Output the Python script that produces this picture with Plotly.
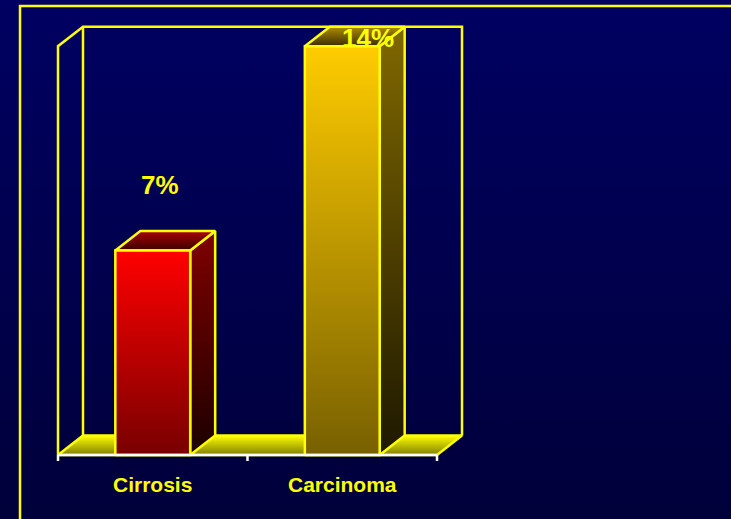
import plotly.graph_objects as go

# ---- data ----
categories = ["Cirrosis", "Carcinoma"]
values = [7, 14]
value_labels = ["7%", "14%"]

# ---- layout / style constants ----
W, H = 731, 519
Y_MAX = 14
BAR_W = 0.395
PX_X, PX_Y = 189.5, 29.2          # pixels per data unit
X0_PX, Y0_PX = 58, 455            # pixel position of (x=-0.5, y=0)
DX, DY = 25 / PX_X, 19.5 / PX_Y    # 3-D depth offset in data units
x_lo = -0.5 - X0_PX / PX_X
x_hi = x_lo + W / PX_X
y_lo = -(H - Y0_PX) / PX_Y
y_hi = y_lo + H / PX_Y

YEL = "#FFFF00"
LW = 2.5
bar_styles = [
    dict(front=("#780000", "#FF0000"), side=("#1C0000", "#800000"), top=("#3A0000", "#A80000")),
    dict(front=("#786000", "#FFCC00"), side=("#1E1800", "#806800"), top=("#3A2E00", "#B08C00")),
]
label_dx = [0.04, 0.135]
label_top = 14.27
label_gap = 2.25

fig = go.Figure()


def poly(xs, ys, grad=None, lw=LW, lc=YEL):
    xs = list(xs) + [xs[0]]
    ys = list(ys) + [ys[0]]
    kw = {}
    if grad is not None:
        kw["fillgradient"] = dict(type="vertical", colorscale=[[0, grad[0]], [1, grad[1]]])
        kw["fill"] = "toself"
    fig.add_trace(go.Scatter(x=xs, y=ys, mode="lines",
                             line=dict(color=lc, width=lw),
                             hoverinfo="skip", **kw))


# background gradient
poly([x_lo, x_hi, x_hi, x_lo], [y_lo, y_lo, y_hi, y_hi],
     grad=("#00003A", "#000062"), lw=0, lc="rgba(0,0,0,0)")

n = len(categories)
xa, xb = -0.5, n - 0.5

# floor
poly([xa, xb, xb + DX, xa + DX], [0, 0, DY, DY], grad=("#7E7E00", "#FFFF00"))

# walls (wireframe)
fig.add_trace(go.Scatter(
    x=[xa, xa, xa + DX, xb + DX, xb + DX, None, xa + DX, xa + DX],
    y=[0, Y_MAX, Y_MAX + DY, Y_MAX + DY, DY, None, DY, Y_MAX + DY],
    mode="lines", line=dict(color=YEL, width=LW), hoverinfo="skip"))

# bars
for i, v in enumerate(values):
    st = bar_styles[i]
    xl, xr = i - BAR_W / 2, i + BAR_W / 2
    poly([xr, xr + DX, xr + DX, xr], [0, DY, v + DY, v], grad=st["side"])
    poly([xl, xr, xr + DX, xl + DX], [v, v, v + DY, v + DY], grad=st["top"])
    poly([xl, xr, xr, xl], [0, 0, v, v], grad=st["front"])

# category axis line and ticks
tick_len = 6 / PX_Y
tx, ty = [xa, xb], [0, 0]
for k in range(n + 1):
    tx += [None, xa + k, xa + k]
    ty += [None, 0, -tick_len]
fig.add_trace(go.Scatter(x=tx, y=ty, mode="lines",
                         line=dict(color="#FFFFFF", width=2.5), hoverinfo="skip"))

# category labels
for i, c in enumerate(categories):
    fig.add_annotation(x=i, y=-1.0, text=c, showarrow=False,
                       xanchor="center", yanchor="middle",
                       font=dict(family="Liberation Sans, Arial", size=21,
                                 color=YEL, weight="bold"))

# value labels
for i, (v, t) in enumerate(zip(values, value_labels)):
    fig.add_annotation(x=i + label_dx[i], y=min(v + label_gap, label_top), text=t,
                       showarrow=False, xanchor="center", yanchor="middle",
                       font=dict(family="Liberation Sans, Arial", size=26,
                                 color=YEL, weight="bold"))

# outer frame
fig.add_shape(type="rect", xref="paper", yref="paper",
              x0=20 / W, x1=1.1, y0=-0.1, y1=1 - 6 / H,
              line=dict(color=YEL, width=LW), layer="above")

fig.update_layout(
    width=W, height=H,
    margin=dict(l=0, r=0, t=0, b=0, pad=0),
    paper_bgcolor="#00004C", plot_bgcolor="#00004C",
    showlegend=False, hovermode=False,
    xaxis=dict(range=[x_lo, x_hi], visible=False, fixedrange=True),
    yaxis=dict(range=[y_lo, y_hi], visible=False, fixedrange=True),
)

fig.write_html("out.html", config={"displayModeBar": False, "staticPlot": True},
               post_script="document.body.style.margin='0';")
